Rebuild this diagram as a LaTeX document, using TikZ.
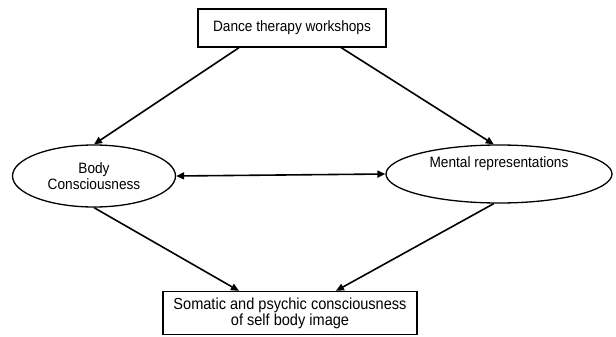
\documentclass[tikz,border=0pt]{standalone}
\usepackage{fontspec}
\setmainfont{Liberation Sans}[FakeStretch=0.91]
\usetikzlibrary{arrows.meta,positioning,shapes.geometric,calc}

\begin{document}
\begin{tikzpicture}[
    x=1pt, y=-1pt,
    box/.style={draw, line width=1.3pt, fill=white, align=center, font=\fontsize{15}{16}\selectfont},
    oval/.style={draw, ellipse, line width=1.3pt, inner sep=0pt, align=center, font=\fontsize{15}{16}\selectfont},
    arrow/.style={-{Triangle[length=8pt, width=7pt]}, line width=1.6pt},
    twoway/.style={{Triangle[length=8pt, width=7pt]}-{Triangle[length=8pt, width=7pt]}, line width=1.6pt}
]
    \useasboundingbox (0,0) rectangle (616,337);

    % Nodes
    \node[box, minimum width=188pt, minimum height=38pt] (dance) at (292,28) {Dance therapy workshops};
    \node[oval, minimum width=163pt, minimum height=62pt] (body) at (94,176) {Body\\Consciousness};
    \node[oval, minimum width=226pt, minimum height=58pt] (mental) at (499,174) {Mental representations\\[8pt]};
    \node[box, minimum width=254pt, minimum height=43pt, inner sep=2pt, font=\fontsize{16}{16}\selectfont] (somatic) at (290,313) {Somatic and psychic consciousness\\of self body image};

    % Connectors
    \draw[arrow] ($(dance.south west)!0.22!(dance.south east)$) -- (body.north);
    \draw[arrow] ($(dance.south west)!0.76!(dance.south east)$) -- (mental.100);
    \draw[twoway] (body.east) -- (mental.west);
    \draw[arrow] (body.south) -- ($(somatic.north west)!0.30!(somatic.north east)$);
    \draw[arrow] (mental.-100) -- ($(somatic.north west)!0.68!(somatic.north east)$);
\end{tikzpicture}
\end{document}
